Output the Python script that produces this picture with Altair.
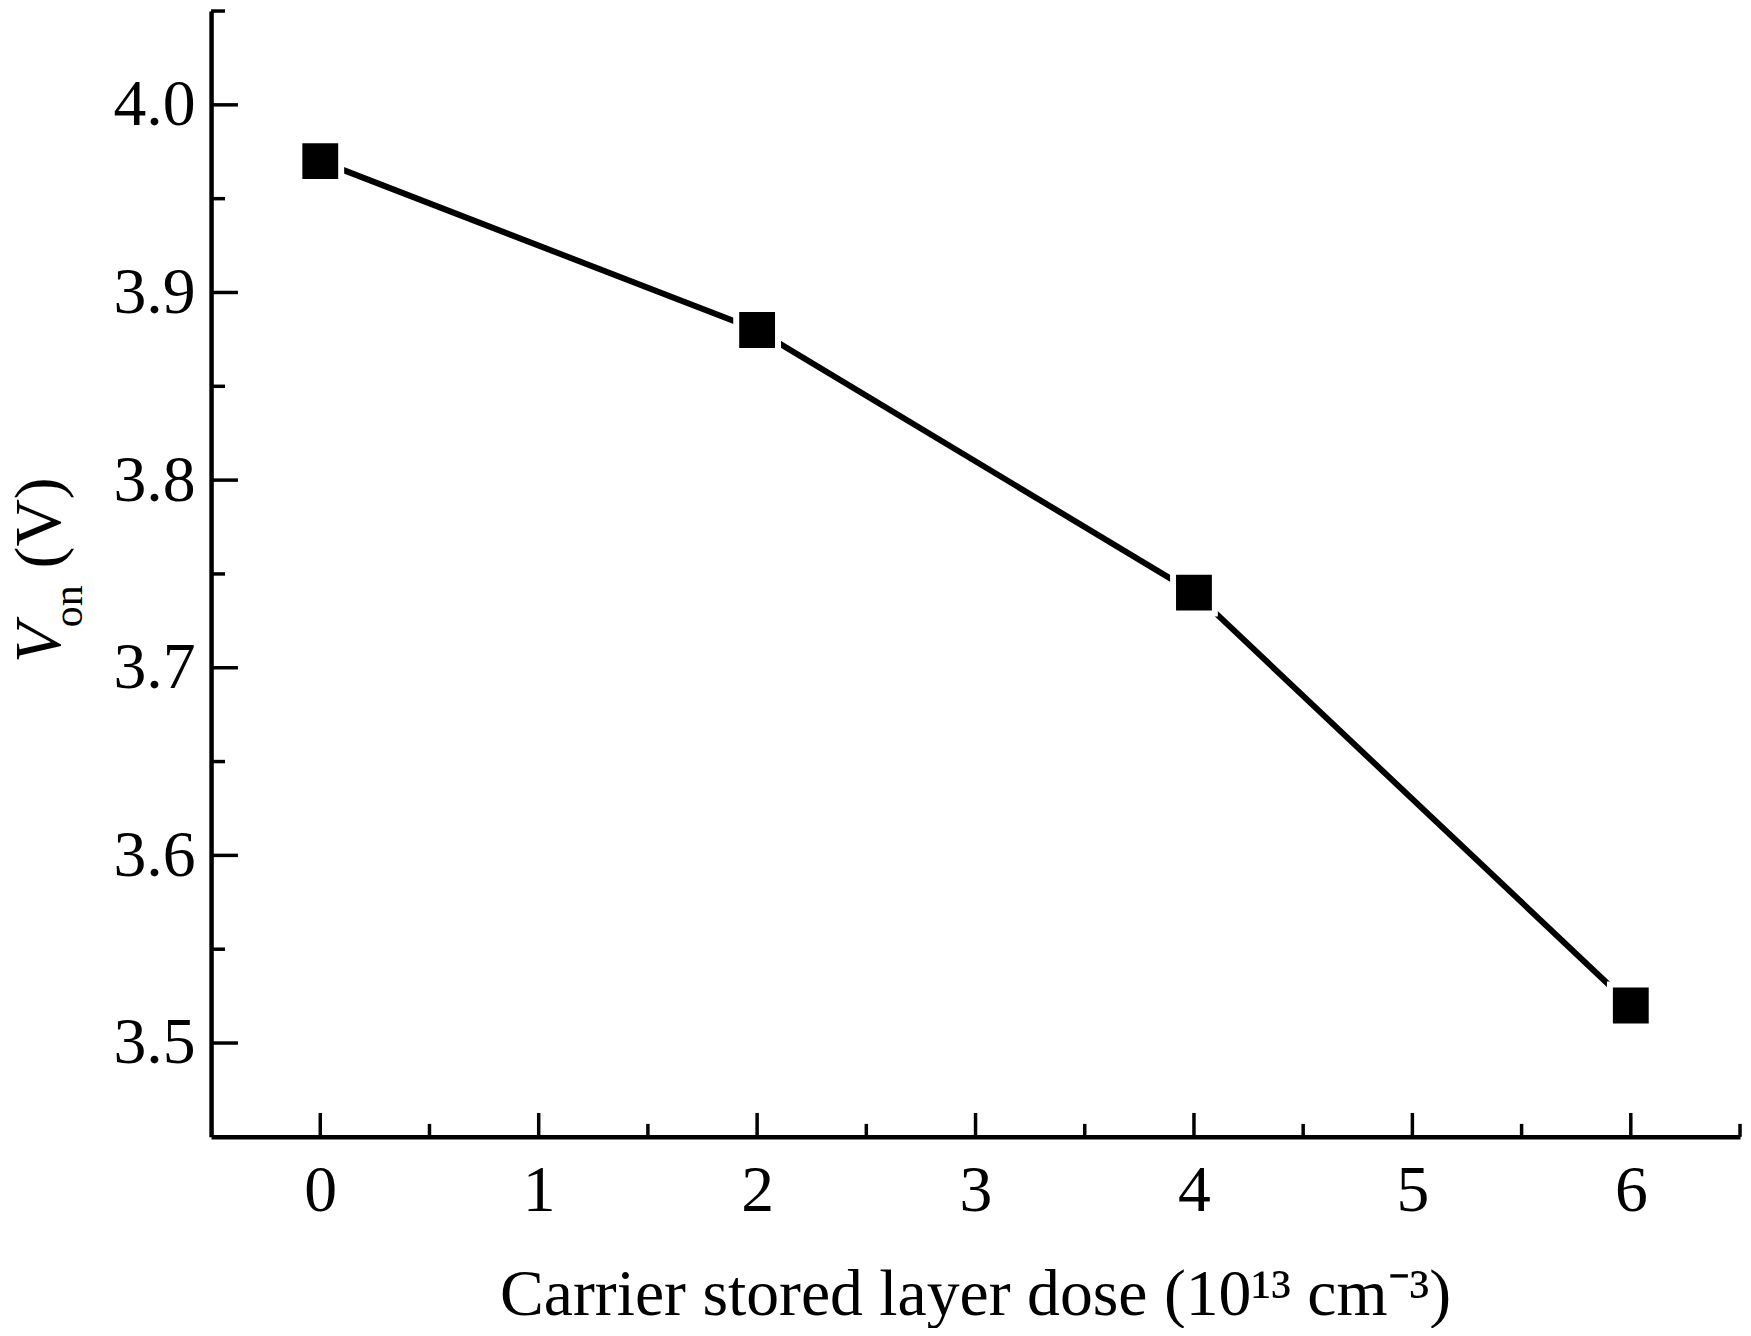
import altair as alt
import pandas as pd

# data
dose = [0, 2, 4, 6]
von = [3.97, 3.88, 3.74, 3.52]

x_major = [0, 1, 2, 3, 4, 5, 6]
x_minor = [0.5, 1.5, 2.5, 3.5, 4.5, 5.5, 6.5]
y_major = [3.5, 3.6, 3.7, 3.8, 3.9, 4.0]
y_minor = [3.55, 3.65, 3.75, 3.85, 3.95, 4.05]

x_title = "Carrier stored layer dose (10¹³ cm⁻³)"

W, H = 1536, 1131
FONT = "Liberation Serif"

df = pd.DataFrame({"x": dose, "y": von})
xs = alt.Scale(domain=[-0.5, 6.5], nice=False, zero=False)
ys = alt.Scale(domain=[3.45, 4.05], nice=False, zero=False)

xaxis = alt.Axis(title=None, values=x_major, format="d", ticks=False, tickSize=0,
                 grid=False, labelFont=FONT, labelFontSize=66, labelColor="black",
                 labelPadding=22, labelBaseline="top", domainColor="black",
                 domainWidth=4.5, labelFlush=False)
yaxis = alt.Axis(title=None, values=y_major, format=".1f", ticks=False, tickSize=0,
                 grid=False, labelFont=FONT, labelFontSize=66, labelColor="black",
                 labelPadding=16, domainColor="black", domainWidth=4.5,
                 labelFlush=False)

line = alt.Chart(df).mark_line(color="black", strokeWidth=6).encode(
    x=alt.X("x:Q", scale=xs, axis=xaxis),
    y=alt.Y("y:Q", scale=ys, axis=yaxis),
)
pts = alt.Chart(df).mark_point(shape="square", filled=True, fill="black",
                               stroke="white", strokeWidth=6, size=1764,
                               opacity=1).encode(
    x=alt.X("x:Q", scale=xs, axis=xaxis),
    y=alt.Y("y:Q", scale=ys, axis=yaxis),
)

def yticks(vals, length):
    return alt.Chart(pd.DataFrame({"y": vals})).mark_rule(
        color="black", strokeWidth=3.5).encode(
        y=alt.Y("y:Q", scale=ys, axis=yaxis),
        x=alt.value(0), x2=alt.value(length))

def xticks(vals, length):
    return alt.Chart(pd.DataFrame({"x": vals})).mark_rule(
        color="black", strokeWidth=3.5).encode(
        x=alt.X("x:Q", scale=xs, axis=xaxis),
        y=alt.value(H), y2=alt.value(H - length))

one = pd.DataFrame({"a": [0]})

def label(txt, x, y, size, angle=0, align="left", style="normal"):
    return alt.Chart(one).mark_text(
        text=txt, font=FONT, fontSize=size, fontStyle=style, color="black",
        angle=angle, align=align, baseline="alphabetic").encode(
        x=alt.value(x), y=alt.value(y))

ytitle = (label("V", -152, 655, 66, angle=270, style="italic")
          + label("on", -130, 619, 42, angle=270)
          + label("(V)", -152, 560, 66, angle=270))
xtitle = label(x_title, W / 2, 1310, 66, align="center")

chart = alt.layer(
    yticks(y_major, 27), yticks(y_minor, 14),
    xticks(x_major, 24), xticks(x_minor, 13),
    line, pts, ytitle, xtitle,
).properties(
    width=W, height=H,
    autosize="none",
    padding={"left": 204, "top": 0, "right": 3, "bottom": 189},
    background="white",
).configure_view(stroke=None)

chart.save("out.html", embed_options={"renderer": "svg", "actions": False})
